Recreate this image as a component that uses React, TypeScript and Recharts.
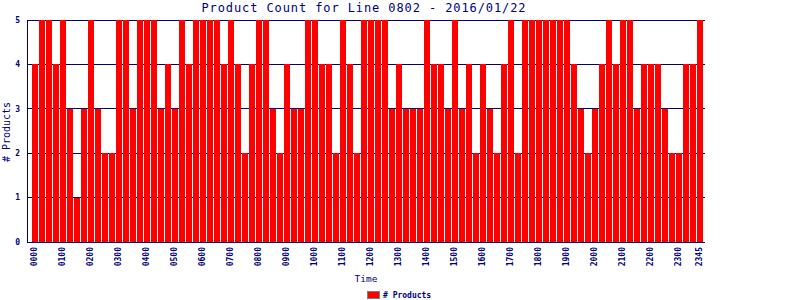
import React from "react";
import {
  BarChart,
  Bar,
  XAxis,
  YAxis,
  CartesianGrid,
} from "recharts";

const NAVY = "#000080";
const RED = "#ff0000";
const MONO = "'DejaVu Sans Mono', 'Liberation Mono', monospace";

const hours = [
  "00", "01", "02", "03", "04", "05", "06", "07", "08", "09", "10", "11",
  "12", "13", "14", "15", "16", "17", "18", "19", "20", "21", "22", "23",
];
const quarters = ["00", "15", "30", "45"];

// product count per 15 min slot, one row per hour
const counts = [
  4, 5, 5, 4,
  5, 3, 1, 3,
  5, 3, 2, 2,
  5, 5, 3, 5,
  5, 5, 3, 4,
  3, 5, 4, 5,
  5, 5, 5, 4,
  5, 4, 2, 4,
  5, 5, 3, 2,
  4, 3, 3, 5,
  5, 4, 4, 2,
  5, 4, 2, 5,
  5, 5, 5, 3,
  4, 3, 3, 3,
  5, 4, 4, 3,
  5, 3, 4, 2,
  4, 3, 2, 4,
  5, 2, 5, 5,
  5, 5, 5, 5,
  5, 4, 3, 2,
  3, 4, 5, 4,
  5, 5, 3, 4,
  4, 4, 3, 2,
  2, 4, 4, 5,
];

const tickLabels = [
  "0000", "0100", "0200", "0300", "0400", "0500", "0600", "0700",
  "0800", "0900", "1000", "1100", "1200", "1300", "1400", "1500",
  "1600", "1700", "1800", "1900", "2000", "2100", "2200", "2300", "2345",
];
const yTicks = [0, 1, 2, 3, 4, 5];

const slots = hours.flatMap((h) => quarters.map((q) => h + q));
const data = slots.map((time, i) => ({ time, products: counts[i] }));

function TimeTick(props: any) {
  const { x, y, payload } = props;
  if (!tickLabels.includes(payload.value)) return null;
  return (
    <text
      transform={`translate(${x + 3},${y + 5}) rotate(-90)`}
      textAnchor="end"
      fill={NAVY}
      fontFamily={MONO}
      fontSize={8}
      fontWeight="bold"
    >
      {payload.value}
    </text>
  );
}

export default function App() {
  return (
    <div style={{ position: "absolute", left: 0, top: 0, width: 800, height: 300, background: "#fff" }}>
      <style>{`.recharts-wrapper line, .recharts-wrapper path, .recharts-wrapper rect { shape-rendering: crispEdges; }`}</style>
      <BarChart
        width={800}
        height={300}
        data={data}
        margin={{ top: 20, right: 95, left: 0, bottom: 0 }}
        barSize={6}
      >
        <CartesianGrid yAxisId="left" stroke={NAVY} vertical={false} strokeWidth={1} />
        <XAxis
          dataKey="time"
          interval={0}
          height={58}
          padding={{ left: 3.5, right: 2.5 }}
          stroke={NAVY}
          tickLine={false}
          tickSize={0}
          tickMargin={0}
          tick={<TimeTick />}
          label={{
            value: "Time",
            position: "insideBottom",
            offset: 18,
            fill: NAVY,
            fontFamily: MONO,
            fontSize: 9.5,
          }}
        />
        <YAxis
          yAxisId="left"
          width={27}
          domain={[0, 5]}
          ticks={yTicks}
          stroke={NAVY}
          tickLine={false}
          tickSize={0}
          tickMargin={7}
          tick={{ fill: NAVY, fontFamily: MONO, fontSize: 8, fontWeight: "bold" }}
        />
        <YAxis yAxisId="right" orientation="right" width={0} tick={false} tickLine={false} stroke={NAVY} />
        <Bar yAxisId="left" dataKey="products" fill={RED} isAnimationActive={false} />
      </BarChart>
      <svg
        width={800}
        height={300}
        style={{ position: "absolute", left: 0, top: 0, pointerEvents: "none" }}
      >
        <text
          x={364}
          y={12}
          textAnchor="middle"
          fill={NAVY}
          fontFamily={MONO}
          fontSize={12}
          letterSpacing={0.9}
        >
          Product Count for Line 0802 - 2016/01/22
        </text>
        <text
          transform="translate(10,132) rotate(-90)"
          textAnchor="middle"
          fill={NAVY}
          fontFamily={MONO}
          fontSize={10}
        >
          # Products
        </text>
        <rect x={367.5} y={291.5} width={12} height={7} fill={RED} stroke="#808080" />
        <text x={383} y={298} fill={NAVY} fontFamily={MONO} fontSize={8} fontWeight="bold">
          # Products
        </text>
      </svg>
    </div>
  );
}
